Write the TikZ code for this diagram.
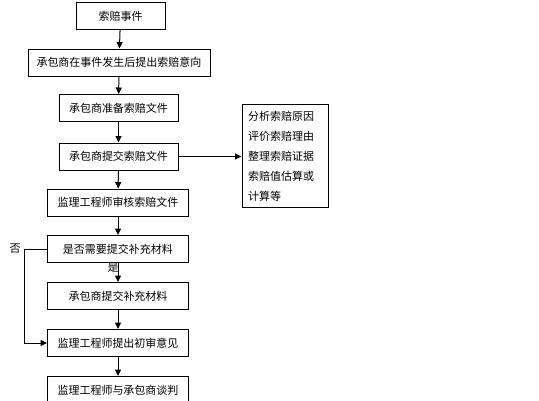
\documentclass[tikz,border=0pt]{standalone}
\usepackage{fontspec}
\setmainfont{Noto Sans CJK SC}
\usetikzlibrary{positioning,arrows.meta}
\tikzset{
  flow/.style={-{Triangle[length=6.5pt,width=6pt]}, line width=1pt, color=black},
  stepbox/.style={draw=black, line width=1pt, minimum height=27pt, inner sep=0pt,
    font=\fontsize{11}{13}\selectfont, align=center},
  notebox/.style={draw=black, line width=1pt, text width=74pt, minimum height=102pt,
    inner sep=6pt, align=left, font=\fontsize{11}{20}\selectfont},
  lbl/.style={font=\fontsize{11}{13}\selectfont, inner sep=0pt},
}
\begin{document}
\begin{tikzpicture}[x=1pt,y=-1pt]
  \useasboundingbox (0,0) rectangle (539,400);
  \clip (0,0) rectangle (539,400);
  \node[stepbox, minimum width=89pt]  (a) at (120.5,16)  {索赔事件};
  \node[stepbox, minimum width=182pt] (b) at (119,62.5)  {承包商在事件发生后提出索赔意向};
  \node[stepbox, minimum width=119pt] (c) at (118.5,108) {承包商准备索赔文件};
  \node[stepbox, minimum width=119pt] (d) at (118.5,156.5) {承包商提交索赔文件};
  \node[notebox] (note) at (285,156) {分析索赔原因\\评价索赔理由\\整理索赔证据\\索赔值估算或\\计算等};
  \node[stepbox, minimum width=141pt] (e) at (118,202.5) {监理工程师审核索赔文件};
  \node[stepbox, minimum width=141pt] (q) at (118,249)   {是否需要提交补充材料};
  \node[stepbox, minimum width=141pt] (f) at (118,296)   {承包商提交补充材料};
  \node[stepbox, minimum width=141pt] (g) at (118,343)   {监理工程师提出初审意见};
  \node[stepbox, minimum width=141pt] (h) at (118,390)   {监理工程师与承包商谈判};
  \node[lbl] (yes) at (113,268) {是};
  \node[lbl] (no) at (15,249) {否};
  % main flow
  \draw[flow] (a) -- (b);
  \draw[flow] (b) -- (c);
  \draw[flow] (c) -- (d);
  \draw[flow] (d) -- (e);
  \draw[flow] (e) -- (q);
  \draw[flow] (q) -- (f);
  \draw[flow] (f) -- (g);
  \draw[flow] (g) -- (h);
  \draw[flow] (d.east) -- (note.west |- d.east);
  % no branch
  \draw[flow] (q.west) -- ++(-23,0) |- (g.west);
\end{tikzpicture}
\end{document}
